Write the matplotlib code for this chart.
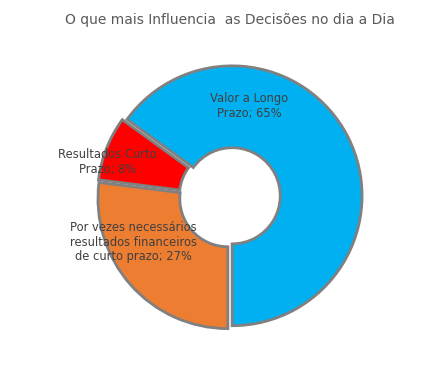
import matplotlib
matplotlib.use("Agg")
import matplotlib.pyplot as plt

# data
labels = ["Valor a Longo\nPrazo; 65%", "Resultados Curto\nPrazo; 8%",
          "Por vezes necessários\nresultados financeiros\nde curto prazo; 27%"]
values = [65, 8, 27]
colors = ["#00B0F0", "#FF0000", "#ED7D31"]
label_pos = [(0.15, 0.70), (-0.94, 0.27), (-0.74, -0.35)]

fig = plt.figure(figsize=(4.48, 3.71), dpi=100)
ax = fig.add_axes([0.194, 0.0836, 0.638, 0.771])

ax.pie(values, colors=colors, startangle=-90, counterclock=True,
       explode=[0.02, 0.02, 0.02], radius=1.0,
       wedgeprops=dict(width=0.63, edgecolor="#808080", linewidth=2))

for lab, (x, y) in zip(labels, label_pos):
    ax.text(x, y, lab, ha="center", va="center", fontsize=8.3, color="#404040",
            linespacing=1.15)

ax.set_xlim(-1.1, 1.1)
ax.set_ylim(-1.1, 1.1)
ax.set_aspect("equal")
ax.axis("off")

fig.text(0.513, 0.946, "O que mais Influencia  as Decisões no dia a Dia",
         ha="center", va="center", fontsize=10, color="#595959")

fig.savefig("out.png", dpi=100)
